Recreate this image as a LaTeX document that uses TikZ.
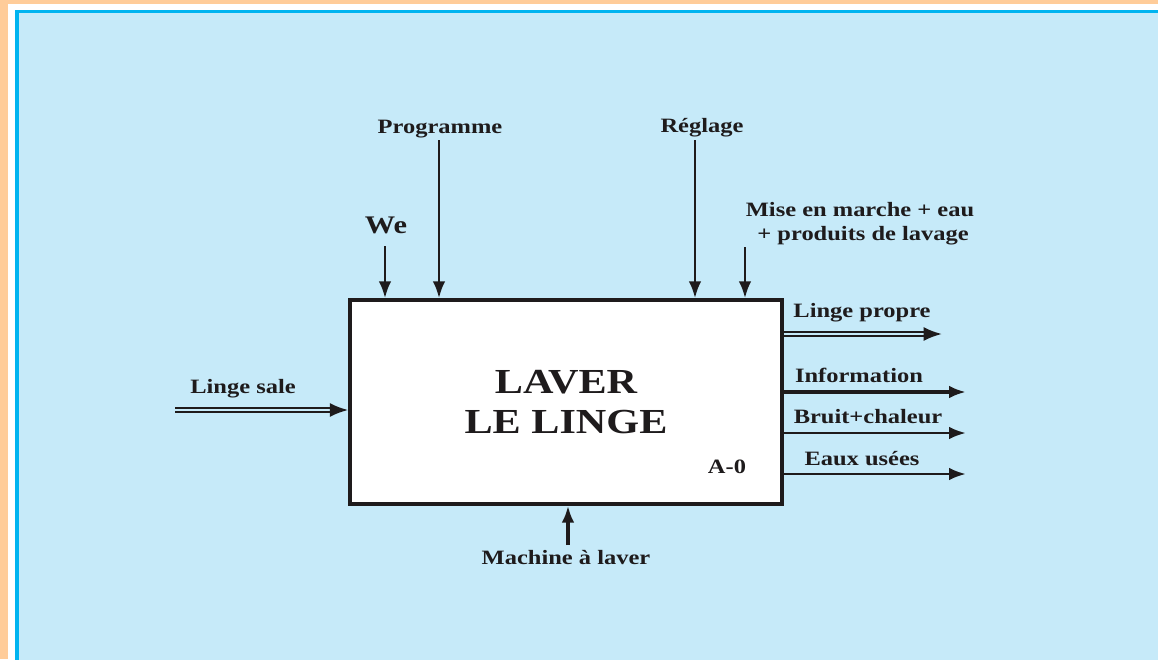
\documentclass[tikz,border=0pt]{standalone}
\usepackage{fontspec}
\setmainfont{Liberation Serif}[FakeStretch=1.2]
\usepackage{xcolor}
\definecolor{framebg}{RGB}{255, 204, 153}
\definecolor{panelbg}{RGB}{198, 234, 249}
\definecolor{panelline}{RGB}{0, 180, 240}
\definecolor{ink}{RGB}{30, 27, 28}
\usetikzlibrary{arrows.meta,positioning,calc}

\begin{document}
\begin{tikzpicture}[
  x=0.025cm, y=-0.025cm,
  lbl/.style={font=\bfseries\fontsize{14.5}{18}\selectfont, text=ink, anchor=base, inner sep=0pt, align=center},
  procbox/.style={draw=ink, fill=white, line width=2.4pt, minimum width=10.8cm, minimum height=5.1cm, font=\bfseries\fontsize{25}{29}\selectfont, text=ink, align=center},
  arrow/.style={-{Latex[length=12pt, width=9pt]}, line width=2.1pt, color=ink},
  thickarrow/.style={arrow, line width=2.9pt},
  dblarrow/.style={-{Latex[length=13pt, width=10pt]}, line width=1.8pt, double=panelbg, double distance=1.3pt, color=ink}
]
\useasboundingbox (0,0) rectangle (1158,659);
% background frame
\fill[framebg] (0,0) rectangle (1158,659);
\fill[white] (8,4) rectangle (1158,659);
\draw[panelline, fill=panelbg, line width=2.4pt] (17,11.5) rectangle (1175,680);

% activity box
\node[procbox] (box) at (566,402) {LAVER\\LE LINGE};
\node[lbl] (code) at (727,473) {A-0};

% controls
\node[lbl, font=\bfseries\fontsize{18}{20}\selectfont] (we) at (386,233) {We};
\node[lbl] (prog) at (440,133) {Programme};
\node[lbl] (regl) at (702,132) {Réglage};
\node[lbl] (mise) at (860,240) {Mise en marche + eau\\[-1pt]\ + produits de lavage};
\coordinate (we-in) at (385,246);
\coordinate (prog-in) at (439,140);
\coordinate (regl-in) at (695,140);
\coordinate (mise-in) at (745,247);
\draw[arrow] (we-in) -- (we-in |- box.north);
\draw[arrow] (prog-in) -- (prog-in |- box.north);
\draw[arrow] (regl-in) -- (regl-in |- box.north);
\draw[arrow] (mise-in) -- (mise-in |- box.north);

% input
\node[lbl] (sale) at (243,393) {Linge sale};
\coordinate (sale-in) at (175,410);
\draw[dblarrow] (sale-in) -- (sale-in -| box.west);

% outputs
\node[lbl] (propre) at (862,317) {Linge propre};
\node[lbl] (info) at (859,382) {Information};
\node[lbl] (bruit) at (868,423) {Bruit+chaleur};
\node[lbl] (eaux) at (862,465) {Eaux usées};
\coordinate (propre-out) at (942,334);
\coordinate (info-out) at (966,392);
\coordinate (bruit-out) at (966,433);
\coordinate (eaux-out) at (966,474);
\draw[dblarrow] (propre-out -| box.east) -- (propre-out);
\draw[thickarrow] (info-out -| box.east) -- (info-out);
\draw[arrow] (bruit-out -| box.east) -- (bruit-out);
\draw[arrow] (eaux-out -| box.east) -- (eaux-out);

% mechanism
\node[lbl] (machine) at (566,564) {Machine à laver};
\coordinate (machine-in) at (568,545);
\draw[thickarrow] (machine-in) -- (machine-in |- box.south);
\end{tikzpicture}
\end{document}
